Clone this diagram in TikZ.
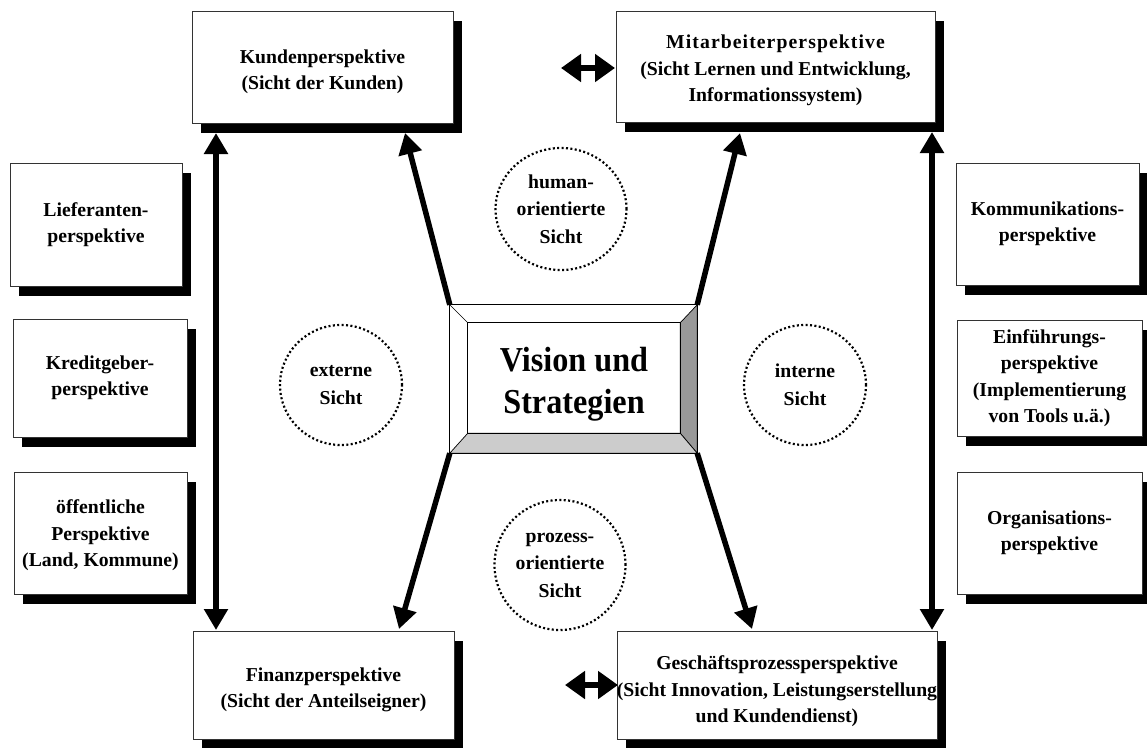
\documentclass[tikz,border=0pt]{standalone}
\usepackage{fontspec}
\setmainfont{Liberation Serif}
\newfontfamily\visionfont[FakeStretch=0.92]{Liberation Serif}
\usetikzlibrary{arrows.meta,shadows,calc,shapes.geometric}
% invisible strut that pushes a text block down inside its box
\newcommand{\topgap}[1]{\rule{0pt}{#1}}

\begin{document}
\begin{tikzpicture}[x=1pt,y=-1pt,
  persp/.style={draw=black!80, line width=0.8pt, fill=white, inner sep=0pt,
    align=center, font=\bfseries\fontsize{19.7}{26.5}\selectfont,
    drop shadow={shadow xshift=9pt, shadow yshift=-10pt, opacity=1, fill=black}},
  view/.style={ellipse, draw=black, line width=2.2pt, dash pattern=on 2pt off 2.4pt,
    inner sep=0pt, align=center, font=\bfseries\fontsize{19.7}{27.5}\selectfont},
  bigarrow/.style={line width=5.5pt, -{Triangle[width=23pt,length=21pt]}},
  longway/.style={line width=5.5pt, {Triangle[width=23pt,length=21pt]}-{Triangle[width=23pt,length=21pt]}},
  twoway/.style={line width=6pt, {Triangle[width=27pt,length=20pt]}-{Triangle[width=27pt,length=20pt]}}
]
\useasboundingbox (0,0) rectangle (1147,747);

% perspective boxes
\node[persp, minimum width=261pt, minimum height=112pt] (kunden) at (322.5,67)
  {\topgap{23pt}Kundenperspektive\\(Sicht der Kunden)};
\node[persp, minimum width=319pt, minimum height=111pt] (mitarb) at (775.5,66.5)
  {\topgap{22pt}{\addfontfeature{LetterSpace=5.5}Mitarbeiterperspektive}\\(Sicht Lernen und Entwicklung,\\Informationssystem)};
\node[persp, minimum width=261pt, minimum height=108pt] (finanz) at (323.5,685)
  {\topgap{23.5pt}Finanzperspektive\\(Sicht der Anteilseigner)};
\node[persp, minimum width=316pt, minimum height=108pt] (gesch) at (777,685)
  {\topgap{27pt}Geschäftsprozessperspektive\\(Sicht Innovation, Leistungserstellung\\und Kundendienst)};

\node[persp, minimum width=172pt, minimum height=123pt] (liefer) at (96,224.5)
  {Lieferanten-\\perspektive};
\node[persp, minimum width=174pt, minimum height=118pt] (kredit) at (100,378)
  {Kreditgeber-\\perspektive};
\node[persp, minimum width=173pt, minimum height=122pt] (oeff) at (100.5,533)
  {\topgap{19pt}öffentliche\\Perspektive\\(Land, Kommune)};

\node[persp, minimum width=183pt, minimum height=122pt] (kommu) at (1047.5,224)
  {Kommunikations-\\perspektive};
\node[persp, minimum width=185pt, minimum height=116pt] (einf) at (1049.5,378)
  {Einführungs-\\perspektive\\(Implementierung\\von Tools u.ä.)};
\node[persp, minimum width=185pt, minimum height=122pt] (orga) at (1049.5,533)
  {Organisations-\\perspektive};

% bevelled centre panel
\node[rectangle, inner sep=0pt, minimum width=247pt, minimum height=148pt] (vision) at (573.5,379) {};
\coordinate (inNW) at ($(vision.north west)+(18,18)$);
\coordinate (inNE) at ($(vision.north east)+(-17,18)$);
\coordinate (inSE) at ($(vision.south east)+(-17,-20)$);
\coordinate (inSW) at ($(vision.south west)+(18,-20)$);
\fill[white] (vision.north west) rectangle (vision.south east);
\filldraw[fill=black!40, draw=black, line width=0.7pt]
  (vision.north east) -- (vision.south east) -- (inSE) -- (inNE) -- cycle;
\filldraw[fill=black!20, draw=black, line width=0.7pt]
  (vision.south west) -- (vision.south east) -- (inSE) -- (inSW) -- cycle;
\draw[line width=0.7pt] (vision.north west) rectangle (vision.south east);
\draw[line width=0.7pt] (inNW) rectangle (inSE);
\draw[line width=0.7pt] (vision.north west) -- (inNW);
\node[align=center, inner sep=0pt, font=\visionfont\bfseries\fontsize{35}{42}\selectfont] (visiontext)
  at ($($(inNW)!0.5!(inSE)$)+(0,6)$) {Vision und\\Strategien};

% views
\node[view, minimum width=131pt, minimum height=122pt] (human) at (561,209)
  {human-\\orientierte\\Sicht};
\node[view, minimum width=122pt, minimum height=120pt] (extern) at (341,385)
  {externe\\Sicht};
\node[view, minimum width=122pt, minimum height=120pt] (intern) at (805,385)
  {interne\\Sicht};
\node[view, minimum width=131pt, minimum height=130pt] (prozess) at (560,565)
  {prozess-\\orientierte\\Sicht};

% arrow end points
\coordinate (tipKunden) at (405,133);
\coordinate (tipMitarb) at (740,133);
\coordinate (tipFinanz) at (399,629);
\coordinate (tipGesch) at (752,629);
\coordinate (lTop) at (216,133);
\coordinate (lBot) at (216,630);
\coordinate (rTop) at (932,132);
\coordinate (rBot) at (932,630);
\coordinate (topL) at (561,68);
\coordinate (topR) at (615,68);
\coordinate (botL) at (565,685);
\coordinate (botR) at (618,685);

% connectors
\draw[bigarrow] (vision.north west) -- (tipKunden);
\draw[bigarrow] (vision.north east) -- (tipMitarb);
\draw[bigarrow] (vision.south west) -- (tipFinanz);
\draw[bigarrow] (vision.south east) -- (tipGesch);
\draw[longway] (lTop) -- (lBot);
\draw[longway] (rTop) -- (rBot);
\draw[twoway] (topL) -- (topR);
\draw[twoway] (botL) -- (botR);
\end{tikzpicture}
\end{document}
